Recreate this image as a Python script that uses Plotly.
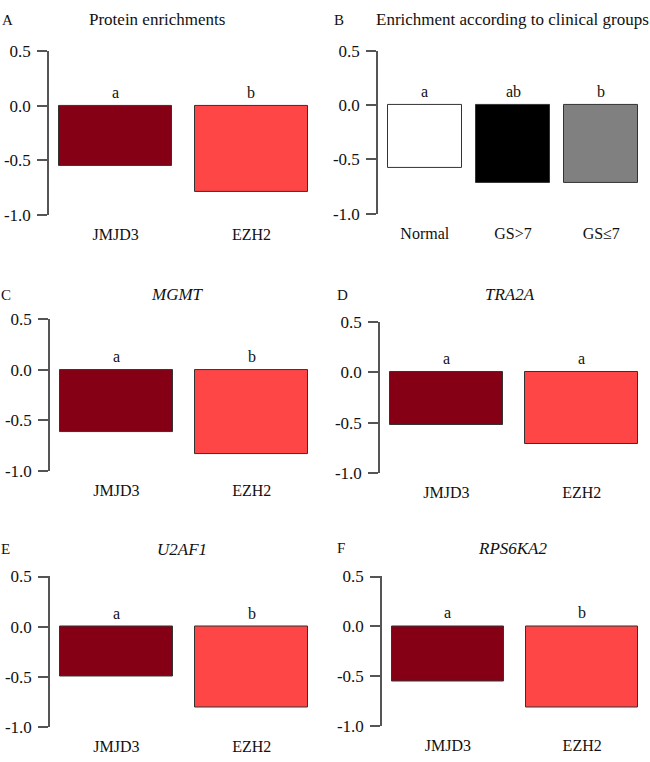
import plotly.graph_objects as go

# --- data ---
protein_groups = ['JMJD3', 'EZH2']
clinical_groups = ['Normal', 'GS>7', 'GS≤7']

protein_values = [-0.55, -0.79]
protein_letters = ['a', 'b']

clinical_values = [-0.58, -0.72, -0.72]
clinical_letters = ['a', 'ab', 'b']

mgmt_values = [-0.61, -0.83]
mgmt_letters = ['a', 'b']

tra2a_values = [-0.52, -0.71]
tra2a_letters = ['a', 'a']

u2af1_values = [-0.50, -0.81]
u2af1_letters = ['a', 'b']

rps6ka2_values = [-0.56, -0.82]
rps6ka2_letters = ['a', 'b']

y_ticks = [0.5, 0.0, -0.5, -1.0]
y_tick_labels = ['0.5', '0.0', '-0.5', '-1.0']

protein_colors = ['#860015', '#FF4646']
clinical_colors = ['#FFFFFF', '#000000', '#808080']

W, H = 650, 762
FONT = 'Liberation Serif'

# panel setup: letter, title, groups, values, letters, colors, x-domain px, y-domain px, title center px, letter px
panels = [
    ('A', 'Protein enrichments', protein_groups, protein_values, protein_letters, protein_colors,
     (49, 318), (43, 211), (157, 11), 7),
    ('B', 'Enrichment according to clinical groups', clinical_groups, clinical_values, clinical_letters,
     clinical_colors, (378, 648), (43, 210), (512, 11), 339),
    ('C', '<i>MGMT</i>', protein_groups, mgmt_values, mgmt_letters, protein_colors,
     (50, 318), (318, 474), (177, 293), 6),
    ('D', '<i>TRA2A</i>', protein_groups, tra2a_values, tra2a_letters, protein_colors,
     (380, 648), (321, 476), (510, 293), 342),
    ('E', '<i>U2AF1</i>', protein_groups, u2af1_values, u2af1_letters, protein_colors,
     (50, 318), (582, 736), (182, 554), 5),
    ('F', '<i>RPS6KA2</i>', protein_groups, rps6ka2_values, rps6ka2_letters, protein_colors,
     (382, 648), (582, 735), (512, 553), 341),
]

fig = go.Figure()
annotations = []

for i, (tag, title, groups, values, letters, colors, xd, yd, tpos, lx) in enumerate(panels):
    n = i + 1
    xa = 'x' if n == 1 else f'x{n}'
    ya = 'y' if n == 1 else f'y{n}'
    # R barplot style positions: width 1, space 0.2
    pos = [0.7 + 1.2 * k for k in range(len(groups))]
    span = 1.2 * len(groups) - 0.2
    xr = [0.2 - 0.04 * span, 0.2 + span + 0.04 * span]

    fig.add_trace(go.Bar(
        x=pos, y=values, width=1.0, xaxis=xa, yaxis=ya,
        marker=dict(color=colors, line=dict(color='#333333', width=1)),
        showlegend=False, hoverinfo='skip'))

    xkey = 'xaxis' if n == 1 else f'xaxis{n}'
    ykey = 'yaxis' if n == 1 else f'yaxis{n}'
    fig.update_layout({
        xkey: dict(domain=[xd[0] / W, xd[1] / W], range=xr, anchor=ya,
                   tickvals=pos, ticktext=groups, ticks='', showline=False,
                   showgrid=False, zeroline=False, ticklabelstandoff=8,
                   tickfont=dict(family=FONT, size=16, color='#111111')),
        ykey: dict(domain=[1 - yd[1] / H, 1 - yd[0] / H], range=[-1.0005, 0.5005], anchor=xa,
                   tickvals=y_ticks, ticktext=y_tick_labels, ticks='outside', ticklen=10,
                   tickwidth=1.5, tickcolor='#555555', showline=True, linecolor='#555555',
                   linewidth=1.5, showgrid=False, zeroline=False, ticklabelstandoff=3,
                   tickfont=dict(family=FONT, size=17, color='#111111')),
    })

    for p, lt in zip(pos, letters):
        annotations.append(dict(x=p, y=0, xref=xa, yref=ya, text=lt, showarrow=False,
                                yanchor='bottom', yshift=3,
                                font=dict(family=FONT, size=16, color='#111111')))
    annotations.append(dict(x=tpos[0] / W, y=1 - tpos[1] / H, xref='paper', yref='paper',
                            text=title, showarrow=False, xanchor='center', yanchor='middle',
                            font=dict(family=FONT, size=17, color='#111111')))
    annotations.append(dict(x=lx / W, y=1 - tpos[1] / H, xref='paper', yref='paper',
                            text=tag, showarrow=False, xanchor='center', yanchor='middle',
                            font=dict(family=FONT, size=15, color='#111111')))

fig.update_layout(
    width=W, height=H,
    margin=dict(l=0, r=0, t=0, b=0),
    plot_bgcolor='white', paper_bgcolor='white',
    annotations=annotations,
    bargap=0,
)

# drop the default page margin so the 650x762 figure fits the window exactly
fig.write_html("out.html", config={'displayModeBar': False},
               post_script="document.body.style.margin='0';")
